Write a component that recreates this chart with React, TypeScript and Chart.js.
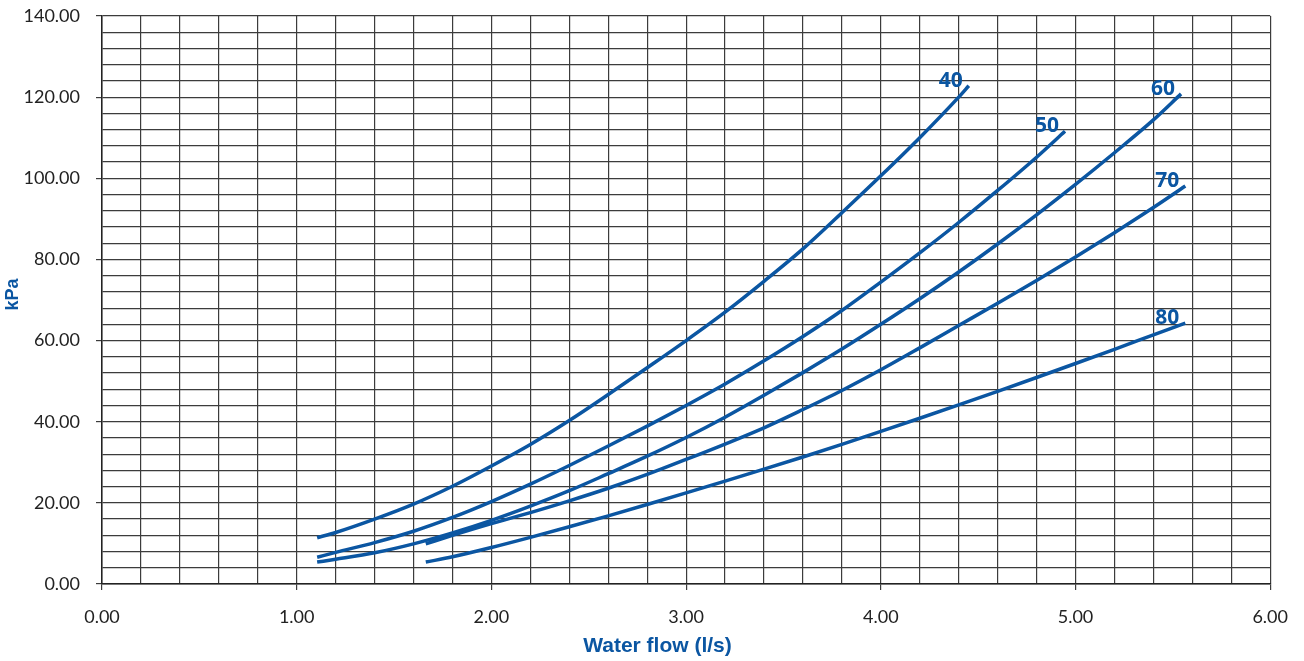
import React, { useEffect, useRef } from "react";
import { Chart, registerables } from "chart.js";

Chart.register(...registerables);

// Water flow (l/s) and pressure drop (kPa) per curve
const flow40 = [1.105, 1.2, 1.4, 1.6, 1.8, 2.0, 2.2, 2.4, 2.6, 2.8, 3.0, 3.2, 3.4, 3.6, 3.8, 4.0, 4.2, 4.4, 4.452];
const kpa40 = [11.4, 12.7, 16.0, 19.7, 24.1, 29.1, 34.4, 40.3, 46.7, 53.3, 60.0, 67.0, 74.6, 82.6, 91.5, 100.6, 110.0, 120.0, 122.8];

const flow50 = [1.105, 1.2, 1.4, 1.6, 1.8, 2.0, 2.2, 2.4, 2.6, 2.8, 3.0, 3.2, 3.4, 3.6, 3.8, 4.0, 4.2, 4.4, 4.6, 4.8, 4.946];
const kpa50 = [6.6, 7.8, 10.2, 13.0, 16.4, 20.3, 24.6, 29.2, 34.0, 38.9, 44.0, 49.3, 55.0, 61.0, 67.4, 74.4, 81.6, 89.1, 97.0, 105.2, 111.6];

const flow60 = [1.105, 1.2, 1.4, 1.6, 1.8, 2.0, 2.2, 2.4, 2.6, 2.8, 3.0, 3.2, 3.4, 3.6, 3.8, 4.0, 4.2, 4.4, 4.6, 4.8, 5.0, 5.2, 5.4, 5.542];
const kpa60 = [5.4, 6.1, 7.7, 9.9, 12.6, 15.7, 19.2, 23.0, 27.2, 31.5, 36.1, 41.1, 46.5, 52.1, 57.9, 64.0, 70.3, 76.9, 83.8, 91.0, 98.5, 106.3, 114.4, 120.8];

const flow70 = [1.663, 1.8, 2.0, 2.2, 2.4, 2.6, 2.8, 3.0, 3.2, 3.4, 3.6, 3.8, 4.0, 4.2, 4.4, 4.6, 4.8, 5.0, 5.2, 5.4, 5.564];
const kpa70 = [9.9, 12.0, 14.9, 17.6, 20.5, 23.6, 27.0, 30.7, 34.5, 38.5, 43.0, 47.7, 52.8, 58.2, 63.7, 69.2, 74.8, 80.6, 86.6, 92.8, 98.1];

const flow80 = [1.663, 1.8, 2.0, 2.2, 2.4, 2.6, 2.8, 3.0, 3.2, 3.4, 3.6, 3.8, 4.0, 4.2, 4.4, 4.6, 4.8, 5.0, 5.2, 5.4, 5.564];
const kpa80 = [5.4, 6.7, 9.0, 11.5, 14.1, 16.8, 19.6, 22.45, 25.35, 28.3, 31.3, 34.4, 37.6, 40.85, 44.15, 47.5, 50.9, 54.35, 57.85, 61.4, 64.3];

const curveLabels = ["40", "50", "60", "70", "80"];
const curveFlows = [flow40, flow50, flow60, flow70, flow80];
const curveKpa = [kpa40, kpa50, kpa60, kpa70, kpa80];

const X_TITLE = "Water flow (l/s)";
const Y_TITLE = "kPa";

const X_MIN = 0, X_MAX = 6, X_MINOR = 0.2, X_MAJOR = 1;
const Y_MIN = 0, Y_MAX = 140, Y_MINOR = 4, Y_MAJOR = 20;

const BLUE = "#0b56a2";
const GRID = "#3c3c3c";
const TITLE_FONT = "'Liberation Sans', Arial, sans-serif";

const isMajor = (v: number, step: number) => Math.abs(v / step - Math.round(v / step)) < 1e-6;

const endLabelPlugin = {
  id: "endLabels",
  afterDatasetsDraw(chart: any) {
    const ctx = chart.ctx;
    ctx.save();
    ctx.fillStyle = BLUE;
    ctx.font = "bold 21px 'Open Sans', sans-serif";
    ctx.textAlign = "right";
    ctx.textBaseline = "alphabetic";
    chart.data.datasets.forEach((ds: any, i: number) => {
      const meta = chart.getDatasetMeta(i);
      const pt = meta.data[meta.data.length - 1];
      if (!pt) return;
      ctx.fillText(ds.label, pt.x - 6, pt.y + 1);
    });
    ctx.restore();
  },
};

const axisTitlePlugin = {
  id: "axisTitles",
  afterDraw(chart: any) {
    const ctx = chart.ctx;
    const area = chart.chartArea;
    ctx.save();
    ctx.fillStyle = BLUE;
    ctx.font = `bold 21px ${TITLE_FONT}`;
    ctx.textAlign = "center";
    ctx.textBaseline = "alphabetic";
    ctx.fillText(X_TITLE, chart.width / 2 + 5.5, chart.height - 9);
    ctx.translate(13.5, (area.top + area.bottom) / 2 - 5.5);
    ctx.rotate(-Math.PI / 2);
    ctx.font = `bold 18px ${TITLE_FONT}`;
    ctx.textBaseline = "middle";
    ctx.fillText(Y_TITLE, 0, 0);
    ctx.restore();
  },
};

export default function App() {
  const ref = useRef<HTMLCanvasElement | null>(null);

  useEffect(() => {
    document.body.style.margin = "0";
    const canvas = ref.current;
    if (!canvas) return;
    const datasets = curveLabels.map((label, i) => ({
      label,
      data: curveFlows[i].map((x, j) => ({ x, y: curveKpa[i][j] })),
      borderColor: BLUE,
      backgroundColor: BLUE,
      borderWidth: 3.5,
      pointRadius: 0,
      cubicInterpolationMode: "monotone",
      fill: false,
    }));
    const chart = new Chart(canvas, {
      type: "line",
      data: { datasets },
      plugins: [endLabelPlugin, axisTitlePlugin],
      options: {
        animation: false,
        responsive: true,
        maintainAspectRatio: false,
        layout: { padding: { left: 0, top: 16, right: 33, bottom: 0 } },
        plugins: { legend: { display: false }, tooltip: { enabled: false } },
        scales: {
          x: {
            type: "linear",
            min: X_MIN,
            max: X_MAX,
            afterFit: (s: any) => { s.height = 77; },
            ticks: {
              stepSize: X_MINOR,
              autoSkip: false,
              maxRotation: 0,
              padding: 16,
              color: "#222",
              font: { family: "Lato, 'Open Sans', sans-serif", size: 18 },
              callback: (v: any) => (isMajor(Number(v), X_MAJOR) ? Number(v).toFixed(2) : ""),
            },
            grid: {
              color: GRID,
              lineWidth: 1.2,
              tickLength: 6,
              tickColor: (c: any) => (c.tick && isMajor(c.tick.value, X_MAJOR) ? GRID : "transparent"),
            },
            border: { color: "#222", width: 1.5 },
            title: { display: false },
          },
          y: {
            type: "linear",
            min: Y_MIN,
            max: Y_MAX,
            afterFit: (s: any) => { s.width = 102; s.paddingTop = 0; s.paddingBottom = 0; },
            ticks: {
              stepSize: Y_MINOR,
              autoSkip: false,
              padding: 16,
              color: "#222",
              font: { family: "Lato, 'Open Sans', sans-serif", size: 18 },
              callback: (v: any) => (isMajor(Number(v), Y_MAJOR) ? Number(v).toFixed(2) : ""),
            },
            grid: {
              color: GRID,
              lineWidth: 1.2,
              tickLength: 6,
              tickColor: (c: any) => (c.tick && isMajor(c.tick.value, Y_MAJOR) ? GRID : "transparent"),
            },
            border: { color: "#222", width: 1.5 },
            title: { display: false },
          },
        },
      },
    } as any);
    return () => chart.destroy();
  }, []);

  return (
    <div style={{ width: 1304, height: 661, position: "relative" }}>
      <canvas ref={ref} />
    </div>
  );
}
